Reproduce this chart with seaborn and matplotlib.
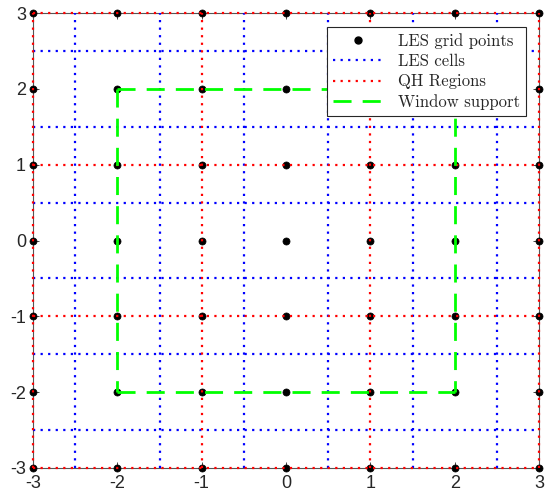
import itertools
import numpy as np
import pandas as pd
import matplotlib.pyplot as plt
from matplotlib.lines import Line2D
import seaborn as sns

# LES grid, cell edges, QH region edges and window support
grid_vals = [-3, -2, -1, 0, 1, 2, 3]
cell_edges = [-2.5, -1.5, -0.5, 0.5, 1.5, 2.5]
qh_edges = [-3, -1, 1, 3]
win_x = [-2, 2, -2, -2, -2, 2, 2, 2]
win_y = [2, 2, 2, -2, -2, -2, 2, -2]
win_seg = [0, 0, 1, 1, 2, 2, 3, 3]
tick_vals = [-3, -2, -1, 0, 1, 2, 3]
legend_labels = ['LES grid points', 'LES cells', 'QH Regions', 'Window support']

pts = pd.DataFrame(list(itertools.product(grid_vals, grid_vals)), columns=['x', 'y'])
win = pd.DataFrame({'x': win_x, 'y': win_y, 'seg': win_seg})

sns.set_style('ticks')
plt.rcParams['font.family'] = ['Liberation Sans', 'DejaVu Sans']
plt.rcParams['axes.unicode_minus'] = False

fig = plt.figure(figsize=(5.45, 4.97), dpi=100)
ax = fig.add_axes([33 / 545, 1 - 468 / 497, 506 / 545, 455 / 497])

dotted = (0, (1, 2.4))
sns.scatterplot(data=pts, x='x', y='y', color='black', s=26, edgecolor='black',
                linewidth=0.5, ax=ax, zorder=2, clip_on=False)
lines = [
    ax.vlines(cell_edges, -3, 3, colors='blue', linestyles=dotted, linewidth=1.6, zorder=3),
    ax.hlines(cell_edges, -3, 3, colors='blue', linestyles=dotted, linewidth=1.6, zorder=3),
    ax.vlines(qh_edges, -3, 3, colors='red', linestyles=dotted, linewidth=1.6, zorder=4),
    ax.hlines(qh_edges, -3, 3, colors='red', linestyles=dotted, linewidth=1.6, zorder=4),
]
for ln in lines:
    ln.set_clip_on(False)
sns.lineplot(data=win, x='x', y='y', units='seg', estimator=None, sort=False,
             color=(0, 1, 0), linewidth=2, linestyle=(0, (6.5, 4)), ax=ax, zorder=5)

ax.set_xlim(-3, 3)
ax.set_ylim(-3, 3)
ax.set_xticks(tick_vals)
ax.set_yticks(tick_vals)
ax.set_xlabel('')
ax.set_ylabel('')
ax.tick_params(direction='in', length=4, width=0.6, labelsize=13, colors='#262626',
               top=True, right=True, pad=5)
for sp in ax.spines.values():
    sp.set_color('#555555')
    sp.set_linewidth(0.8)
    sp.set_zorder(1)

handles = [
    Line2D([], [], marker='o', color='black', linestyle='none', markersize=5),
    Line2D([], [], color='blue', linestyle=dotted, linewidth=1.6),
    Line2D([], [], color='red', linestyle=dotted, linewidth=1.6),
    Line2D([], [], color=(0, 1, 0), linestyle=(0, (6.5, 4)), linewidth=2),
]
leg = ax.legend(handles, legend_labels, loc='upper right', bbox_to_anchor=(0.974, 0.969),
                borderaxespad=0, frameon=True, fancybox=False, framealpha=1,
                edgecolor='#262626', handlelength=3.0, handletextpad=0.9,
                labelspacing=0.3, borderpad=0.35, prop={'family': 'cmr10', 'size': 12})
leg.get_frame().set_linewidth(0.8)
leg.set_zorder(10)

fig.savefig('out.png', dpi=100)
